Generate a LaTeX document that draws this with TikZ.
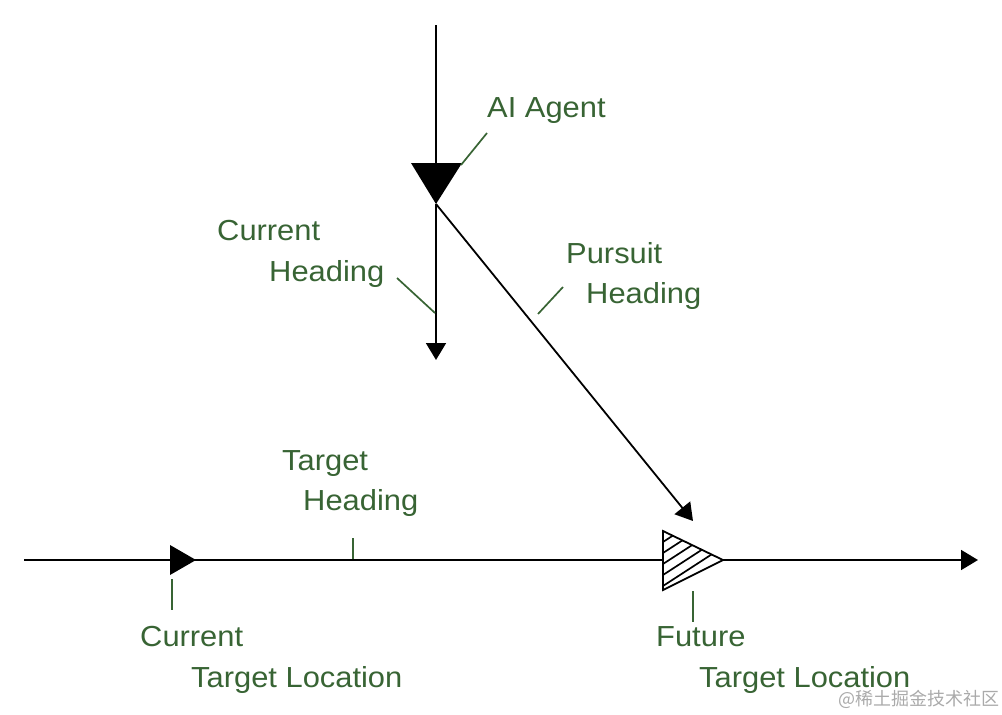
\documentclass[tikz,border=0pt]{standalone}
\usepackage{fontspec}
\setmainfont[FakeStretch=1.065]{Liberation Sans}
\newfontfamily\cjkfont{Noto Sans CJK SC}
\usetikzlibrary{arrows.meta}
\definecolor{labgreen}{RGB}{56,100,52}
\definecolor{wmgray}{RGB}{170,170,170}
\begin{document}
\begin{tikzpicture}[x=1pt,y=-1pt,
  blk/.style={line width=1.8pt,black},
  lead/.style={line width=1.7pt,labgreen},
  lab/.style={anchor=base west,inner sep=0pt,text=labgreen,font=\fontsize{29}{29}\selectfont},
  arr/.style={-{Triangle[length=17pt,width=20pt]}}]
\useasboundingbox (0,0) rectangle (1002,715);
% coordinates
\coordinate (vtop) at (436,25);
\coordinate (agL) at (411,163);
\coordinate (agR) at (462,163);
\coordinate (agA) at (436,204);
\coordinate (headEnd) at (436,360);
\coordinate (pursEnd) at (693,521);
\coordinate (hStart) at (24,560);
\coordinate (hEnd) at (978,560);
\coordinate (ctL1) at (170,545);
\coordinate (ctL2) at (170,575);
\coordinate (ctA) at (196,560);
\coordinate (ftL1) at (663,531);
\coordinate (ftL2) at (663,590);
\coordinate (ftA) at (723,560);
% main lines
\draw[blk] (vtop) -- (436,165);
\draw[blk,arr] (agA) -- (headEnd);
\draw[blk,arr] (agA) -- (pursEnd);
\draw[blk,arr] (hStart) -- (hEnd);
% agent triangle
\fill[black] (agL) -- (agR) -- (agA) -- cycle;
% current target
\fill[black] (ctL1) -- (ctL2) -- (ctA) -- cycle;
% future target hatched
\fill[white] (ftL1) -- (ftL2) -- (ftA) -- cycle;
\begin{scope}
\clip (ftL1) -- (ftL2) -- (ftA) -- cycle;
\foreach \y in {542,553,564,575,586}
  \draw[line width=1.7pt] (663,\y) -- ++(80,-52);
\end{scope}
\draw[line width=1.8pt,line join=miter] (ftL1) -- (ftL2) -- (ftA) -- cycle;
% labels
\node[lab] (tAI) at (487,117) {AI Agent};
\node[lab] (tCH1) at (217,240) {Current};
\node[lab] (tCH2) at (269,281) {Heading};
\node[lab] (tPH1) at (566,263) {Pursuit};
\node[lab] (tPH2) at (586,303) {Heading};
\node[lab] (tTH1) at (282,470) {Target};
\node[lab] (tTH2) at (303,510) {Heading};
\node[lab] (tCT1) at (140,646) {Current};
\node[lab] (tCT2) at (191,687) {Target Location};
\node[lab] (tFT1) at (656,646) {Future};
\node[lab] (tFT2) at (699,687) {Target Location};
% leaders
\draw[lead] (461,165) -- (487,133);
\draw[lead] (397,278) -- (435,313);
\draw[lead] (538,314) -- (563,287);
\draw[lead] (353,538) -- (353,559);
\draw[lead] (172,579) -- (172,610);
\draw[lead] (693,591) -- (693,622);
% watermark
\node[anchor=base west,inner sep=0pt,text=wmgray,font=\cjkfont\fontsize{18}{18}\selectfont] (wm) at (838,705) {@稀土掘金技术社区};
\end{tikzpicture}
\end{document}
